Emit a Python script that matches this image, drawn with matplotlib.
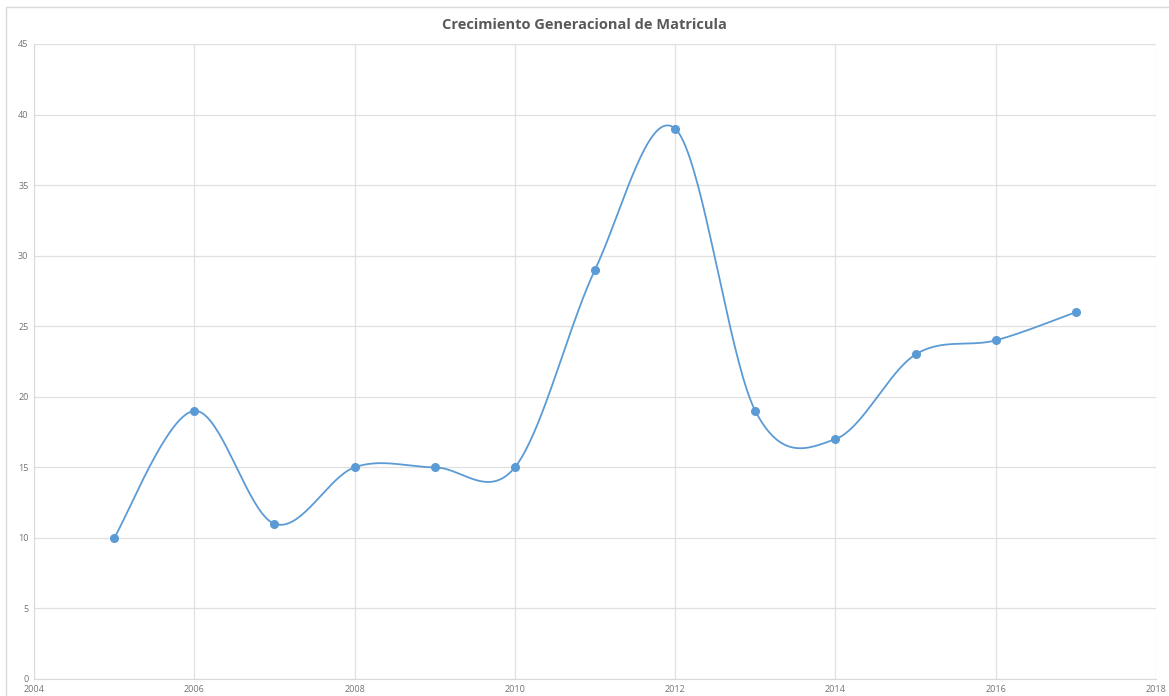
import numpy as np
import matplotlib.pyplot as plt
from matplotlib.patches import Rectangle

# Matricula por año
years = [2005, 2006, 2007, 2008, 2009, 2010, 2011, 2012, 2013, 2014, 2015, 2016, 2017]
matricula = [10, 19, 11, 15, 15, 15, 29, 39, 19, 17, 23, 24, 26]

x_ticks = [2004, 2006, 2008, 2010, 2012, 2014, 2016, 2018]
y_ticks = [0, 5, 10, 15, 20, 25, 30, 35, 40, 45]


def smooth_line(xs, ys, n=40):
    # Bezier smoothing like Excel's "smoothed line" (Catmull-Rom control points)
    xs = np.asarray(xs, float)
    ys = np.asarray(ys, float)
    px = np.concatenate([[xs[0]], xs, [xs[-1]]])
    py = np.concatenate([[ys[0]], ys, [ys[-1]]])
    out_x, out_y = [], []
    t = np.linspace(0, 1, n)
    for i in range(1, len(px) - 2):
        p0 = np.array([px[i], py[i]])
        p3 = np.array([px[i + 1], py[i + 1]])
        c1 = p0 + (np.array([px[i + 1], py[i + 1]]) - np.array([px[i - 1], py[i - 1]])) / 6
        c2 = p3 - (np.array([px[i + 2], py[i + 2]]) - np.array([px[i], py[i]])) / 6
        b = ((1 - t) ** 3)[:, None] * p0 + (3 * (1 - t) ** 2 * t)[:, None] * c1 \
            + (3 * (1 - t) * t ** 2)[:, None] * c2 + (t ** 3)[:, None] * p3
        out_x.extend(b[:, 0])
        out_y.extend(b[:, 1])
    return out_x, out_y


plt.rcParams["font.family"] = ["Open Sans", "DejaVu Sans"]

fig = plt.figure(figsize=(11.69, 6.96), dpi=100)
fig.patches.append(Rectangle((6 / 1169, -0.1), 1.2, 1 - 7 / 696 + 0.1,
                             transform=fig.transFigure, fill=False,
                             edgecolor="#d9d9d9", linewidth=1))

ax = fig.add_axes([34 / 1169, 1 - 679 / 696, (1156 - 34) / 1169, (679 - 44) / 696])

sx, sy = smooth_line(years, matricula)
ax.plot(sx, sy, color="#5b9bd5", linewidth=1.3, zorder=3)
ax.plot(years, matricula, linestyle="none", marker="o", markersize=5.5,
        color="#5b9bd5", zorder=4)

ax.set_xlim(2004, 2018)
ax.set_ylim(0, 45)
ax.set_xticks(x_ticks)
ax.set_yticks(y_ticks)
ax.grid(True, color="#e0e0e0", linewidth=0.9)
ax.set_axisbelow(True)
for side in ["top", "right"]:
    ax.spines[side].set_visible(False)
for side in ["left", "bottom"]:
    ax.spines[side].set_color("#d9d9d9")
ax.tick_params(length=0, labelsize=6.5, labelcolor="#737373", pad=4)

fig.text(0.5, 1 - 25 / 696, "Crecimiento Generacional de Matricula",
         ha="center", va="center", fontsize=10.5, fontweight="bold", color="#595959")

fig.savefig("out.png", dpi=100)
